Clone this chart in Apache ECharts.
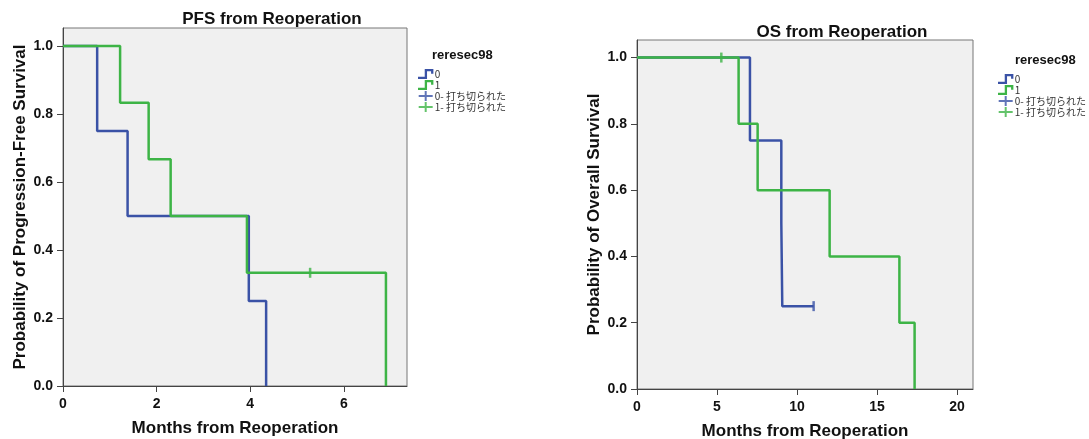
<!DOCTYPE html>
<html>
<head>
<meta charset="utf-8">
<script src="https://cdn.jsdelivr.net/npm/echarts@6/dist/echarts.min.js"></script>
<style>
  html, body { margin: 0; padding: 0; background: #fff; }
  #main { width: 1089px; height: 439px; }
</style>
</head>
<body>
<div id="main"></div>
<script>
// Kaplan-Meier steps: [months, survival]
var pfs0 = [[0, 1], [0.73, 0.75], [1.38, 0.5], [3.97, 0.25], [4.34, 0]];
var pfs1 = [[0, 1], [1.22, 0.833], [1.83, 0.667], [2.30, 0.5], [3.93, 0.333], [6.90, 0]];
var pfsCens0 = [];
var pfsCens1 = [[5.28, 0.333]];

var os0 = [[0, 1], [7.06, 0.75], [9.02, 0.5], [9.08, 0.25], [11.04, 0.25]];
var os1 = [[0, 1], [6.35, 0.8], [7.54, 0.6], [12.04, 0.4], [16.4, 0.2], [17.35, 0]];
var osCens0 = [[11.04, 0.25]];
var osCens1 = [[5.27, 1]];

var yTicks = [0, 0.2, 0.4, 0.6, 0.8, 1.0];
var pfsXTicks = [0, 2, 4, 6];
var osXTicks = [0, 5, 10, 15, 20];

var groupNames = ['0', '1', '0- 打ち切られた', '1- 打ち切られた'];

var BLUE = '#3a52a6';
var GREEN = '#3db446';
var FONT = 'Liberation Sans, Arial, sans-serif';

// small step glyph and plus glyph like the SPSS legend
var stepIcon = 'path://M0,8 L7,8 L7,0 L16,0 L16,5 L13.6,5 L13.6,2.4 L9.4,2.4 L9.4,10.4 L0,10.4 Z';
var plusIcon = 'path://M0,4 L6,4 L6,0 L8,0 L8,4 L14,4 L14,6 L8,6 L8,10 L6,10 L6,6 L0,6 Z';

var myChart = echarts.init(document.getElementById('main'));

function yAxis(gridIndex, name) {
    return {
        type: 'value', gridIndex: gridIndex, min: 0, max: 1.053,
        name: name, nameLocation: 'middle', nameGap: 34,
        nameTextStyle: { fontFamily: FONT, fontWeight: 'bold', fontSize: 17, color: '#111' },
        axisLine: { show: true, lineStyle: { color: '#444', width: 1 } },
        axisTick: { show: true, inside: false, length: 6, customValues: yTicks, lineStyle: { color: '#444' } },
        axisLabel: { customValues: yTicks, margin: 10, fontFamily: FONT, fontWeight: 'bold', fontSize: 14, color: '#111',
            formatter: function (v) { return v.toFixed(1); } },
        splitLine: { show: false }
    };
}
function xAxis(gridIndex, max, ticks) {
    return {
        type: 'value', gridIndex: gridIndex, min: 0, max: max,
        name: 'Months from Reoperation', nameLocation: 'middle', nameGap: 34,
        nameTextStyle: { fontFamily: FONT, fontWeight: 'bold', fontSize: 17, color: '#111' },
        axisLine: { show: true, onZero: false, lineStyle: { color: '#444', width: 1 } },
        axisTick: { show: true, inside: false, length: 6, customValues: ticks, lineStyle: { color: '#444' } },
        axisLabel: { customValues: ticks, margin: 11, fontFamily: FONT, fontWeight: 'bold', fontSize: 14, color: '#111' },
        splitLine: { show: false }
    };
}
function km(name, data, color, xi) {
    return {
        name: name, type: 'line', step: 'end', data: data, xAxisIndex: xi, yAxisIndex: xi,
        showSymbol: false, symbol: 'none', animation: false,
        lineStyle: { color: color, width: 2.5 }, itemStyle: { color: color }
    };
}
function cens(name, data, color, xi) {
    return {
        name: name, type: 'scatter', data: data, xAxisIndex: xi, yAxisIndex: xi,
        symbol: 'rect', symbolSize: [2.5, 10], animation: false,
        itemStyle: { color: color }, z: 3
    };
}
function legend(left, top) {
    return {
        left: left, top: top, orient: 'vertical', itemGap: 1, itemWidth: 16, itemHeight: 10,
        textStyle: { fontFamily: 'Noto Sans CJK JP, sans-serif', fontSize: 10, color: '#333', padding: [0, 0, 0, -4] },
        selectedMode: false,
        data: [
            { name: groupNames[0], icon: stepIcon, itemStyle: { color: BLUE } },
            { name: groupNames[1], icon: stepIcon, itemStyle: { color: GREEN } },
            { name: groupNames[2], icon: plusIcon, itemStyle: { color: BLUE } },
            { name: groupNames[3], icon: plusIcon, itemStyle: { color: GREEN } }
        ]
    };
}

var option = {
    backgroundColor: '#fff',
    title: [
        { text: 'PFS from Reoperation', left: 267, top: 6, textAlign: 'center',
          textStyle: { fontFamily: FONT, fontWeight: 'bold', fontSize: 17, color: '#111' } },
        { text: 'OS from Reoperation', left: 837, top: 19, textAlign: 'center',
          textStyle: { fontFamily: FONT, fontWeight: 'bold', fontSize: 17, color: '#111' } },
        { text: 'reresec98', left: 427, top: 44,
          textStyle: { fontFamily: FONT, fontWeight: 'bold', fontSize: 13, color: '#111' } },
        { text: 'reresec98', left: 1010, top: 49,
          textStyle: { fontFamily: FONT, fontWeight: 'bold', fontSize: 13, color: '#111' } }
    ],
    legend: [legend(413, 64), legend(993, 69)],
    grid: [
        { left: 63, top: 28, width: 344, height: 358, outerBoundsMode: 'none', containLabel: false,
          show: true, backgroundColor: '#f0f0f0', borderColor: '#777', borderWidth: 1 },
        { left: 637, top: 40, width: 336, height: 349, outerBoundsMode: 'none', containLabel: false,
          show: true, backgroundColor: '#f0f0f0', borderColor: '#777', borderWidth: 1 }
    ],
    xAxis: [xAxis(0, 7.35, pfsXTicks), xAxis(1, 21, osXTicks)],
    yAxis: [yAxis(0, 'Probability of Progression-Free Survival'), yAxis(1, 'Probability of Overall Survival')],
    series: [
        km(groupNames[0], pfs0, BLUE, 0),
        km(groupNames[1], pfs1, GREEN, 0),
        cens(groupNames[2], pfsCens0, BLUE, 0),
        cens(groupNames[3], pfsCens1, GREEN, 0),
        km(groupNames[0], os0, BLUE, 1),
        km(groupNames[1], os1, GREEN, 1),
        cens(groupNames[2], osCens0, BLUE, 1),
        cens(groupNames[3], osCens1, GREEN, 1)
    ]
};

myChart.setOption(option);
</script>
</body>
</html>
